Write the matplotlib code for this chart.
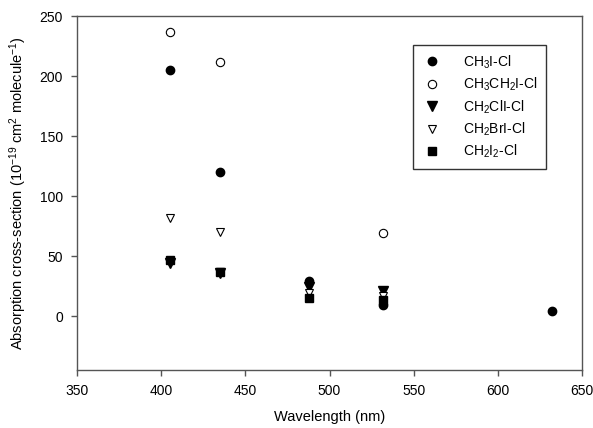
import matplotlib
matplotlib.use("Agg")
import matplotlib.pyplot as plt

plt.rcParams["font.family"] = ["Liberation Sans", "DejaVu Sans"]
plt.rcParams["mathtext.fontset"] = "custom"
plt.rcParams["mathtext.rm"] = "Liberation Sans"
plt.rcParams["mathtext.it"] = "Liberation Sans:italic"
plt.rcParams["mathtext.default"] = "rm"

# Absorption cross-sections (1e-19 cm^2 molecule^-1) by wavelength (nm)
ch3i_wl = [405, 435, 488, 532, 632]
ch3i_xs = [205, 120, 29, 9, 4]

ch3ch2i_wl = [405, 435, 532]
ch3ch2i_xs = [237, 212, 69]

ch2cli_wl = [405, 435, 488, 532]
ch2cli_xs = [44, 36, 24, 21]

ch2bri_wl = [405, 435, 488, 532]
ch2bri_xs = [82, 70, 19, 17]

ch2i2_wl = [405, 435, 488, 532]
ch2i2_xs = [47, 37, 15, 13]

labels = ["CH$_3$I-Cl", "CH$_3$CH$_2$I-Cl", "CH$_2$ClI-Cl",
          "CH$_2$BrI-Cl", "CH$_2$I$_2$-Cl"]

fig = plt.figure(figsize=(5.93, 4.28), dpi=100)
ax = fig.add_axes([0.1298, 0.1355, 0.8517, 0.8271])

ms = 6
ax.plot(ch3i_wl, ch3i_xs, "o", color="black", ms=ms, label=labels[0], zorder=3)
ax.plot(ch3ch2i_wl, ch3ch2i_xs, "o", mfc="white", mec="black", mew=0.8, ms=ms,
        label=labels[1], zorder=3)
ax.plot(ch2cli_wl, ch2cli_xs, "v", color="black", ms=ms + 0.5, label=labels[2], zorder=3)
ax.plot(ch2bri_wl, ch2bri_xs, "v", mfc="white", mec="black", mew=0.8, ms=ms,
        label=labels[3], zorder=3)
ax.plot(ch2i2_wl, ch2i2_xs, "s", color="black", ms=ms, label=labels[4], zorder=3)

ax.set_xlim(350, 650)
ax.set_ylim(-45, 250)
ax.set_xticks([350, 400, 450, 500, 550, 600, 650])
ax.set_yticks([0, 50, 100, 150, 200, 250])

for s in ax.spines.values():
    s.set_color("#555555")
    s.set_linewidth(1.0)
ax.tick_params(direction="out", length=4, width=1, color="#555555",
               labelsize=10, pad=6)

ax.set_xlabel("Wavelength (nm)", fontsize=10.5, labelpad=9)
ax.set_ylabel("Absorption cross-section (10$^{-19}$ cm$^2$ molecule$^{-1}$)",
              fontsize=10.5, labelpad=8)

leg = ax.legend(loc="upper left", bbox_to_anchor=(413 / 593, 1 - 45 / 428),
                bbox_transform=fig.transFigure, fontsize=10, frameon=True,
                fancybox=False, edgecolor="black", handlelength=1.5,
                handletextpad=1.5, labelspacing=0.36, borderpad=0.6,
                borderaxespad=0, markerscale=1.0)
leg.get_frame().set_linewidth(1.0)

fig.savefig("out.png", dpi=100)
